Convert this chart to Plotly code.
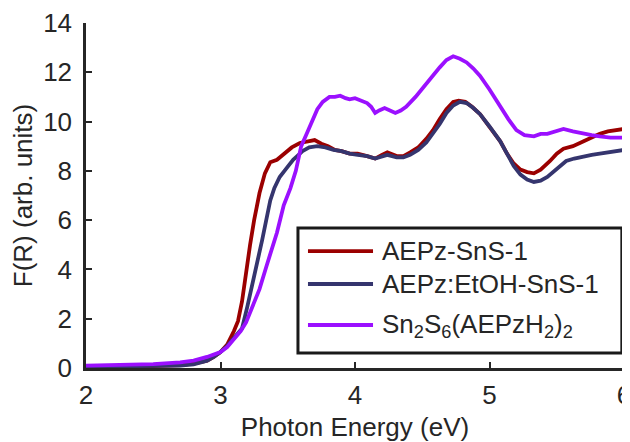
import plotly.graph_objects as go

# ---- data ----
energy_red = [2.0, 2.3, 2.5, 2.7, 2.8, 2.9, 2.95, 3.0, 3.05, 3.1, 3.13, 3.16, 3.19, 3.22, 3.25, 3.29,
              3.33, 3.37, 3.42, 3.47, 3.53, 3.59, 3.65, 3.70, 3.75, 3.80, 3.85, 3.90, 3.96, 4.02,
              4.09, 4.15, 4.20, 4.24, 4.31, 4.36, 4.41, 4.47, 4.53, 4.58, 4.63, 4.68, 4.73, 4.77,
              4.82, 4.87, 4.93, 5.00, 5.08, 5.13, 5.18, 5.23, 5.28, 5.33, 5.38, 5.45, 5.50, 5.55,
              5.62, 5.70, 5.76, 5.82, 5.88, 5.94, 6.0]
fr_red = [0.05, 0.06, 0.08, 0.12, 0.18, 0.3, 0.45, 0.65, 0.95, 1.5, 1.9, 2.7, 3.9, 5.0, 6.0, 7.1,
          7.9, 8.35, 8.45, 8.7, 8.95, 9.13, 9.2, 9.25, 9.1, 9.0, 8.85, 8.8, 8.7, 8.7,
          8.6, 8.5, 8.65, 8.75, 8.6, 8.6, 8.75, 8.95, 9.3, 9.65, 10.1, 10.5, 10.8, 10.85,
          10.8, 10.6, 10.3, 9.8, 9.2, 8.7, 8.3, 8.05, 7.95, 7.9, 8.05, 8.4, 8.7, 8.9,
          9.0, 9.2, 9.35, 9.5, 9.6, 9.65, 9.7]

energy_blue = [2.0, 2.3, 2.5, 2.7, 2.8, 2.9, 2.95, 3.0, 3.05, 3.1, 3.16, 3.20, 3.23, 3.27, 3.31,
               3.34, 3.37, 3.40, 3.44, 3.49, 3.54, 3.58, 3.61, 3.66, 3.72, 3.78, 3.84, 3.90, 3.96,
               4.02, 4.09, 4.15, 4.20, 4.24, 4.31, 4.36, 4.41, 4.47, 4.53, 4.58, 4.63, 4.68, 4.73,
               4.78, 4.83, 4.88, 4.93, 5.00, 5.08, 5.13, 5.18, 5.23, 5.28, 5.33, 5.38, 5.43, 5.50,
               5.57, 5.63, 5.70, 5.76, 5.82, 5.90, 6.0]
fr_blue = [0.05, 0.06, 0.07, 0.1, 0.15, 0.3, 0.45, 0.65, 0.9, 1.2, 1.6, 2.5, 3.2, 4.2, 5.2,
           6.0, 6.8, 7.3, 7.75, 8.1, 8.45, 8.65, 8.8, 8.95, 9.0, 8.95, 8.85, 8.8, 8.7,
           8.65, 8.6, 8.5, 8.6, 8.65, 8.55, 8.55, 8.65, 8.85, 9.15, 9.5, 9.9, 10.35, 10.65,
           10.8, 10.75, 10.55, 10.3, 9.8, 9.2, 8.7, 8.2, 7.85, 7.65, 7.55, 7.6, 7.75, 8.1,
           8.4, 8.5, 8.6, 8.65, 8.7, 8.75, 8.85]

energy_purple = [2.0, 2.3, 2.5, 2.7, 2.8, 2.9, 2.95, 3.0, 3.05, 3.1, 3.15, 3.19, 3.24, 3.29, 3.34,
                 3.38, 3.42, 3.47, 3.52, 3.56, 3.60, 3.64, 3.68, 3.72, 3.76, 3.81, 3.85, 3.89,
                 3.93, 3.96, 4.00, 4.04, 4.09, 4.12, 4.15, 4.18, 4.22, 4.26, 4.30, 4.34, 4.38,
                 4.45, 4.53, 4.58, 4.63, 4.68, 4.73, 4.78, 4.83, 4.88, 4.93, 5.00, 5.08, 5.14,
                 5.20, 5.26, 5.33, 5.38, 5.43, 5.50, 5.55, 5.62, 5.70, 5.76, 5.82, 5.90, 6.0]
fr_purple = [0.1, 0.12, 0.16, 0.23, 0.3, 0.45, 0.55, 0.65, 0.85, 1.15, 1.5, 1.85, 2.5, 3.2, 4.1,
             4.8, 5.5, 6.6, 7.3, 8.0, 9.0, 9.5, 10.0, 10.5, 10.8, 11.0, 11.0, 11.05,
             10.95, 10.9, 10.95, 10.85, 10.75, 10.6, 10.35, 10.45, 10.55, 10.45, 10.35, 10.45, 10.6,
             11.0, 11.55, 11.9, 12.2, 12.5, 12.65, 12.55, 12.4, 12.15, 11.85, 11.3, 10.6, 10.1,
             9.65, 9.45, 9.4, 9.5, 9.5, 9.6, 9.7, 9.6, 9.5, 9.45, 9.4, 9.35, 9.35]

series_names = ["AEPz-SnS-1", "AEPz:EtOH-SnS-1",
                "Sn<sub>2</sub>S<sub>6</sub>(AEPzH<sub>2</sub>)<sub>2</sub>"]
series_colors = ["#9b0000", "#35356e", "#9b10ff"]
x_ticks = [2, 3, 4, 5, 6]
y_ticks = [0, 2, 4, 6, 8, 10, 12, 14]

FONT = "Liberation Sans, Arial, Helvetica, sans-serif"
TXT = "#262626"
FS = 26

fig = go.Figure()
for xs, ys, name, col in zip([energy_red, energy_blue, energy_purple],
                             [fr_red, fr_blue, fr_purple], series_names, series_colors):
    fig.add_trace(go.Scatter(x=xs, y=ys, mode="lines", name=name,
                             line=dict(color=col, width=3.8), showlegend=False))

# manual legend (box, line samples and labels)
legend_rows = [0.339, 0.2435, 0.1246]
shapes = [dict(type="rect", xref="paper", yref="paper", x0=0.394, x1=0.996, y0=0.0435, y1=0.406,
               line=dict(color="#1a1a1a", width=3), fillcolor="white", layer="above")]
annotations = []
for yr, name, col in zip(legend_rows, series_names, series_colors):
    shapes.append(dict(type="line", xref="paper", yref="paper", x0=0.4126, x1=0.5335, y0=yr, y1=yr,
                       line=dict(color=col, width=3.8), layer="above"))
    annotations.append(dict(xref="paper", yref="paper", x=0.5465, y=yr, text=name, showarrow=False,
                            xanchor="left", yanchor="middle",
                            font=dict(family=FONT, size=FS, color=TXT)))

# page body has an 8px default margin, so the figure is 8px smaller than the window
fig.update_layout(
    width=622, height=434,
    margin=dict(l=78, r=6, t=15, b=74),
    paper_bgcolor="white", plot_bgcolor="white",
    font=dict(family=FONT, size=FS, color=TXT),
    shapes=shapes, annotations=annotations,
    xaxis=dict(range=[2, 6], tickvals=x_ticks, showgrid=False, zeroline=False,
               showline=True, linecolor="#262626", linewidth=2.5, automargin=False,
               ticks="inside", ticklen=6, tickwidth=2, tickcolor="#262626",
               ticklabelstandoff=2, ticklabeloverflow="allow",
               title=dict(text="Photon Energy (eV)", standoff=9,
                          font=dict(family=FONT, size=FS, color=TXT))),
    yaxis=dict(range=[0, 14], tickvals=y_ticks, showgrid=False, zeroline=False,
               showline=True, linecolor="#262626", linewidth=2.5, automargin=False,
               ticks="inside", ticklen=6, tickwidth=2, tickcolor="#262626",
               ticklabelstandoff=6, ticklabeloverflow="allow",
               title=dict(text="F(R) (arb. units)", standoff=5,
                          font=dict(family=FONT, size=FS, color=TXT))),
)

fig.write_html("out.html")
